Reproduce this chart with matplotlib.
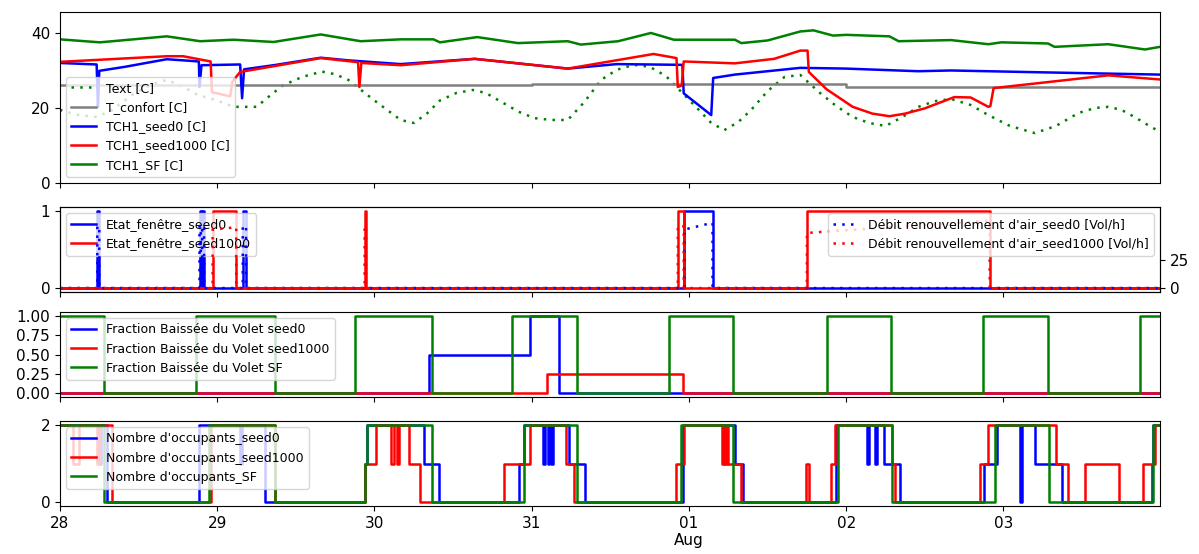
import numpy as np
import pandas as pd
import matplotlib
matplotlib.use("Agg")
import matplotlib.pyplot as plt
import matplotlib.dates as mdates

# Début de la période simulée, les temps sont en heures depuis ce point
debut = pd.Timestamp("2023-07-28 00:00")
fin_h = 167.9

# --- Températures (heure, valeur) ---
text_h = [0, 2.5, 5.6, 8, 11, 14, 16.3, 19, 21, 24, 26.5, 30, 32, 34, 37, 40, 42, 44, 48,
          52, 54, 56, 58, 60.5, 63, 65, 67, 70, 72.4, 75, 77.5, 80, 82.6, 85, 87.6, 90,
          92.5, 95, 97.5, 99.4, 101.4, 103.5, 105.5, 108, 110.6, 113, 116, 118.5, 121,
          123.5, 126, 128.5, 131, 133.5, 136, 139, 141.7, 145, 148.8, 152, 155.5, 158,
          160, 162, 164, 166, 167.9]
text_v = [19.5, 18.2, 17.6, 19.5, 23.5, 26.3, 27.5, 25.5, 23.5, 22, 20.3, 20.3, 23.2, 26,
          28.3, 29.7, 29, 27.5, 22, 16.8, 16, 18.5, 22, 24, 24.8, 24, 22, 19, 17.3, 16.8,
          16.8, 21.5, 27.5, 30.2, 31.5, 31, 28.5, 24, 19.5, 16, 14.1, 16.2, 19.5, 24.5,
          28.3, 28.8, 24, 20.5, 17.6, 16, 15.2, 17.5, 20.3, 21.8, 22.4, 20.8, 18.1, 15.2,
          13.3, 15.2, 18.7, 20, 20.3, 19.5, 17.6, 15.5, 13.6]

confort_h = [0, 72, 120, 167.9]
confort_v = [26.0, 26.3, 25.6, 25.6]

seed0_h = [0, 5.6, 5.8, 6.0, 10, 16.3, 18.8, 21.2, 21.3, 21.6, 27.5, 27.8, 28.1, 33,
           39.8, 44, 52, 63.3, 77.5, 85, 95.0, 95.2, 99.4, 99.7, 103, 113, 120, 131,
           136, 150, 167.9]
seed0_v = [32, 31.6, 20.3, 29.9, 31, 33, 32.7, 32.4, 25.6, 31.4, 31.6, 22.6, 30.3, 31.5,
           33.4, 32.7, 31.7, 33.1, 30.5, 31.7, 31.5, 23.9, 18.1, 28, 28.9, 30.7, 30.5,
           29.8, 30, 29.5, 28.9]

seed1000_h = [0, 16.3, 18.8, 23.0, 23.2, 26, 26.3, 27.5, 39.8, 45.5, 45.7, 46, 52, 63.3,
              77.5, 90.6, 94.1, 94.3, 94.9, 95.2, 103, 109, 113, 114.1, 114.3, 117, 121,
              124, 126.6, 129, 132, 136.5, 139, 141.7, 142, 142.5, 151.8, 160, 167.9]
seed1000_v = [32.3, 33.8, 33.8, 32.4, 24.2, 23.1, 27, 29.6, 33.3, 32.2, 25.6, 32, 31.4, 33.1,
              30.5, 34.4, 33.3, 25.6, 26, 32.4, 31.9, 33.1, 35.3, 35.3, 29.6, 25, 20.3,
              18.5, 17.8, 18.5, 19.9, 22.9, 22.8, 20.3, 20.5, 25.3, 27.1, 28.7, 27.6]

sf_h = [0, 6.1, 16.3, 21.4, 26.5, 32.6, 39.8, 45.9, 52, 57, 58, 63.7, 69.9, 77.5, 79.5,
        85.2, 90.2, 93.7, 103, 104, 108, 113, 115, 118, 120, 126.6, 128, 136, 141.7,
        143.7, 150.8, 151.8, 160, 165.6, 167.9]
sf_v = [38.3, 37.5, 39.1, 37.8, 38.2, 37.6, 39.6, 37.8, 38.3, 38.3, 37.5, 38.9, 37.3, 37.8,
        36.9, 37.8, 40, 38.2, 38.2, 37.3, 38, 40.4, 40.7, 39.3, 39.5, 39.1, 37.8, 38.1,
        37, 37.5, 37.2, 36.3, 37, 35.6, 36.3]

# --- Fenêtres : périodes d'ouverture (heure début, heure fin) et débit d'air associé ---
fen_seed0 = [(5.7, 6.0), (21.3, 21.5), (21.7, 22.0), (27.9, 28.4), (95.3, 99.6)]
debit_seed0 = [(55, 55), (55, 55), (55, 55), (55, 55), (52, 58)]
fen_seed1000 = [(23.3, 26.9), (46.5, 46.7), (94.3, 95.2), (114.0, 141.9)]
debit_seed1000 = [(52, 54), (55, 55), (55, 55), (49, 60)]

# --- Volets : changements (heure, fraction baissée) ---
volet_seed0_h = [0, 56.4, 71.7, 76.2]
volet_seed0_v = [0, 0.5, 1.0, 0]
volet_seed1000_h = [0, 74.3, 95.1]
volet_seed1000_v = [0, 0.25, 0]
volet_sf_h = [0, 6.7, 20.8, 32.8, 45, 56.8, 69, 78.9, 92.9, 102.8, 117, 126.8, 140.9,
              150.8, 164.9]
volet_sf_v = [1, 0, 1, 0, 1, 0, 1, 0, 1, 0, 1, 0, 1, 0, 1]

# --- Occupants : changements (heure, nombre) ---
occ_seed0_h = [0, 5.9, 6.3, 7.2, 21.2, 27.5, 27.8, 31.3, 46.5, 46.9, 55.5, 57.8, 70, 70.8,
               73.8, 74.0, 74.5, 74.7, 75.0, 75.2, 77.7, 80.2, 95.1, 103.0, 104.3, 118.4,
               123.2, 123.5, 124.4, 124.7, 125.8, 128.2, 141.0, 143.0, 146.5, 146.8,
               148.8, 152.9, 166.6, 166.9]
occ_seed0_v = [2, 1, 2, 0, 2, 1, 2, 0, 1, 2, 1, 0, 1, 2, 1, 2, 1, 2, 1, 2, 1, 0, 2, 1, 0,
               2, 1, 2, 1, 2, 1, 0, 1, 2, 0, 2, 1, 0, 1, 2]
occ_seed1000_h = [0, 2.0, 2.9, 5.6, 6.1, 8.0, 23.0, 32.8, 46.5, 48.3, 50.6, 51.0, 51.5,
                  51.8, 53.2, 55.0, 67.8, 71.7, 77.3, 78.4, 94.1, 95.2, 101.0, 101.3,
                  101.5, 101.8, 102.0, 104.0, 113.9, 114.4, 117.7, 118.3, 127.0, 127.4,
                  140.4, 141.6, 152.0, 153.8, 156.5, 161.7, 165.3, 167.2]
occ_seed1000_v = [2, 1, 2, 1, 2, 0, 2, 0, 1, 2, 1, 2, 1, 2, 1, 0, 1, 2, 1, 0, 1, 2, 1, 2,
                  1, 2, 1, 0, 1, 0, 1, 2, 1, 0, 1, 2, 1, 0, 1, 0, 1, 2]
occ_sf_h = [0, 6.7, 22.7, 32.8, 46.5, 46.9, 56.8, 70.8, 78.9, 94.8, 102.8, 118.8, 127.0,
            142.7, 150.9, 166.9]
occ_sf_v = [2, 0, 2, 0, 1, 2, 0, 2, 0, 2, 0, 2, 0, 2, 0, 2]


def dates(heures):
    return debut + pd.to_timedelta(np.asarray(heures, dtype=float), unit="h")


def escalier(h, v):
    # prolonge la dernière valeur jusqu'à la fin de la période
    return dates(list(h) + [fin_h]), list(v) + [v[-1]]


def etat_fenetre(periodes):
    h, v = [0], [0]
    for a, b in periodes:
        h += [a, b]
        v += [1, 0]
    return escalier(h, v)


def debit_air(periodes, debits):
    h, v = [0], [0]
    for (a, b), (d0, d1) in zip(periodes, debits):
        h += [a, a, b, b]
        v += [0, d0, d1, 0]
    h.append(fin_h)
    v.append(0)
    return dates(h), v


lw = 1.8
pointille = (0, (1, 2.5))
leg = dict(fontsize=9)

fig = plt.figure(figsize=(11.99, 5.54), dpi=100)
gauche, larg = 0.05, 0.9175
ax1 = fig.add_axes([gauche, 0.6697, larg, 0.3087])
ax2 = fig.add_axes([gauche, 0.4729, larg, 0.1534], sharex=ax1)
ax3 = fig.add_axes([gauche, 0.2834, larg, 0.1534], sharex=ax1)
ax4 = fig.add_axes([gauche, 0.0866, larg, 0.1534], sharex=ax1)

# Températures
ax1.plot(dates(text_h), text_v, color="g", ls=pointille, lw=lw, label="Text [C]")
ax1.plot(dates(confort_h), confort_v, color="grey", lw=lw, drawstyle="steps-post",
         label="T_confort [C]")
ax1.plot(dates(seed0_h), seed0_v, "b", lw=lw, label="TCH1_seed0 [C]")
ax1.plot(dates(seed1000_h), seed1000_v, "r", lw=lw, label="TCH1_seed1000 [C]")
ax1.plot(dates(sf_h), sf_v, "g", lw=lw, label="TCH1_SF [C]")
ax1.set_ylim(0, 45.6)
ax1.set_yticks([0, 20, 40])
ax1.legend(loc="lower left", **leg)

# Fenêtres et débit d'air
x, y = etat_fenetre(fen_seed0)
ax2.plot(x, y, "b", lw=lw, drawstyle="steps-post", label="Etat_fenêtre_seed0")
x, y = etat_fenetre(fen_seed1000)
ax2.plot(x, y, "r", lw=lw, drawstyle="steps-post", label="Etat_fenêtre_seed1000")
ax2.legend(loc="upper left", **leg)
ax2b = ax2.twinx()
x, y = debit_air(fen_seed0, debit_seed0)
ax2b.plot(x, y, color="b", ls=pointille, lw=lw,
          label="Débit renouvellement d'air_seed0 [Vol/h]")
x, y = debit_air(fen_seed1000, debit_seed1000)
ax2b.plot(x, y, color="r", ls=pointille, lw=lw,
          label="Débit renouvellement d'air_seed1000 [Vol/h]")
ax2b.set_ylim(-3.5, 72)
ax2b.set_yticks([0, 25])
ax2b.legend(loc="upper right", **leg)

# Volets
x, y = escalier(volet_seed0_h, volet_seed0_v)
ax3.plot(x, y, "b", lw=lw, drawstyle="steps-post", label="Fraction Baissée du Volet seed0")
x, y = escalier(volet_seed1000_h, volet_seed1000_v)
ax3.plot(x, y, "r", lw=lw, drawstyle="steps-post", label="Fraction Baissée du Volet seed1000")
x, y = escalier(volet_sf_h, volet_sf_v)
ax3.plot(x, y, "g", lw=lw, drawstyle="steps-post", label="Fraction Baissée du Volet SF")
ax3.set_yticks([0, 0.25, 0.5, 0.75, 1.0])
ax3.legend(loc="upper left", **leg)

# Occupants
x, y = escalier(occ_seed0_h, occ_seed0_v)
ax4.plot(x, y, "b", lw=lw, drawstyle="steps-post", label="Nombre d'occupants_seed0")
x, y = escalier(occ_seed1000_h, occ_seed1000_v)
ax4.plot(x, y, "r", lw=lw, drawstyle="steps-post", label="Nombre d'occupants_seed1000")
x, y = escalier(occ_sf_h, occ_sf_v)
ax4.plot(x, y, "g", lw=lw, drawstyle="steps-post", label="Nombre d'occupants_SF")
ax4.set_yticks([0, 2])
ax4.legend(loc="upper left", **leg)


def format_jour(val, pos):
    d = mdates.num2date(val)
    return d.strftime("%d\n%b") if d.day == 1 else d.strftime("%d")


ax1.set_xlim(dates([0])[0], dates([fin_h])[0])
ax4.xaxis.set_major_locator(mdates.DayLocator())
ax4.xaxis.set_major_formatter(plt.FuncFormatter(format_jour))
for ax in (ax1, ax2, ax3):
    ax.tick_params(labelbottom=False)
for ax in (ax1, ax2, ax2b, ax3, ax4):
    ax.tick_params(labelsize=11)

fig.savefig("out.png", dpi=100)
